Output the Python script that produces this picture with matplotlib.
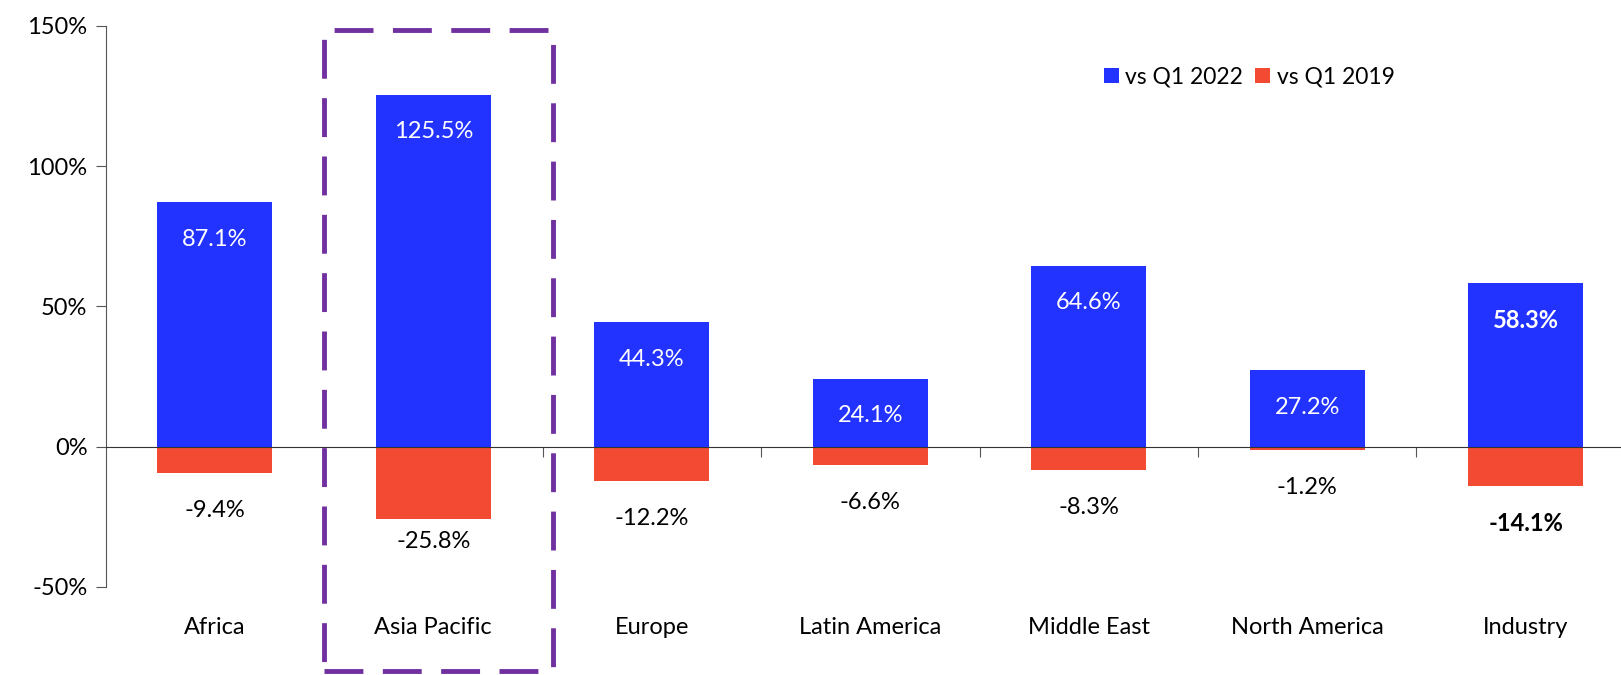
import numpy as np
import matplotlib
matplotlib.use("Agg")
from matplotlib import pyplot as plt
from matplotlib.patches import Rectangle
from matplotlib.ticker import FuncFormatter

plt.rcParams["font.family"] = ["Lato", "DejaVu Sans"]
plt.rcParams["font.size"] = 17

# regions and change in passengers
regions = ["Africa", "Asia Pacific", "Europe", "Latin America", "Middle East", "North America", "Industry"]
vs_2022 = [87.1, 125.5, 44.3, 24.1, 64.6, 27.2, 58.3]
vs_2019 = [-9.4, -25.8, -12.2, -6.6, -8.3, -1.2, -14.1]

BLUE = "#2232FF"
RED = "#F24A33"
PURPLE = "#7030A0"

fig = plt.figure(figsize=(16.21, 6.75), dpi=100)
ax = fig.add_axes([0.0651, 0.1304, 0.9349, 0.8311])

x = np.arange(len(regions))
w = 0.525
ax.bar(x, vs_2022, w, color=BLUE, label="vs Q1 2022", zorder=2)
ax.bar(x, vs_2019, w, color=RED, label="vs Q1 2019", zorder=2)

ax.set_xlim(-0.5, 6.436)
ax.set_ylim(-50, 150)
ax.set_yticks([-50, 0, 50, 100, 150])
ax.yaxis.set_major_formatter(FuncFormatter(lambda v, p: f"{v:.0f}%"))

# zero line carries the category separators
ax.spines["top"].set_visible(False)
ax.spines["right"].set_visible(False)
ax.spines["bottom"].set_position(("data", 0))
ax.spines["bottom"].set_color("#333333")
ax.spines["left"].set_color("#555555")
ax.set_xticks(np.arange(0.5, len(regions) - 0.5, 1))
ax.set_xticklabels([])
ax.tick_params(axis="x", direction="out", length=7, color="#555555")
ax.tick_params(axis="y", direction="out", length=7, color="#555555", pad=6)

for i, name in enumerate(regions):
    bold = "bold" if name == "Industry" else "normal"
    ax.annotate(name, (i, 0), xycoords=("data", "axes fraction"),
                xytext=(0, -29), textcoords="offset points",
                ha="center", va="center")
    ax.annotate(f"{vs_2022[i]:.1f}%", (i, vs_2022[i]), xytext=(0, -26.5),
                textcoords="offset points", ha="center", va="center",
                color="white", fontweight=bold, zorder=3)
    drop = -16 if name == "Asia Pacific" else -27
    ax.annotate(f"{vs_2019[i]:.1f}%", (i, vs_2019[i]), xytext=(0, drop),
                textcoords="offset points", ha="center", va="center",
                color="black", fontweight=bold, zorder=3)

# highlight box around Asia Pacific
box = Rectangle((0.5, -79.8), 1.048, 228.2, fill=False, edgecolor=PURPLE,
                linewidth=3.5, linestyle=(0, (8, 4)), clip_on=False, zorder=4)
ax.add_patch(box)

ax.legend(loc="upper left", bbox_to_anchor=(0.645, 0.965), ncol=2, frameon=False,
          handlelength=0.65, handleheight=0.65, handletextpad=0.3,
          columnspacing=0.5, fontsize=16.5)

fig.savefig("out.png", dpi=100)
